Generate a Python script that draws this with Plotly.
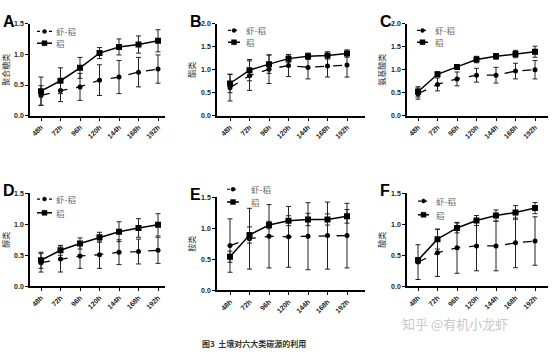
import plotly.graph_objects as go

times = ["48h", "72h", "96h", "120h", "144h", "168h", "192h"]
series_names = ["虾-稻", "稻"]
panel_letters = ["A", "B", "C", "D", "E", "F"]
y_titles = ["聚合糖类", "酯类", "氨基酸类", "醇类", "胺类", "酸类"]

# mean values and error bars [虾-稻, 稻]
A_xd = [0.33, 0.41, 0.47, 0.58, 0.63, 0.71, 0.76]
A_xd_err = [0.16, 0.18, 0.22, 0.25, 0.27, 0.24, 0.23]
A_d = [0.40, 0.57, 0.78, 1.02, 1.12, 1.16, 1.22]
A_d_err = [0.23, 0.21, 0.17, 0.09, 0.13, 0.14, 0.18]

B_xd = [0.61, 0.87, 1.01, 1.09, 1.05, 1.08, 1.10]
B_xd_err = [0.29, 0.32, 0.31, 0.24, 0.25, 0.24, 0.26]
B_d = [0.70, 0.99, 1.12, 1.24, 1.29, 1.31, 1.35]
B_d_err = [0.20, 0.23, 0.20, 0.08, 0.07, 0.08, 0.08]

C_xd = [0.48, 0.68, 0.80, 0.88, 0.88, 0.97, 1.00]
C_xd_err = [0.12, 0.14, 0.15, 0.15, 0.17, 0.17, 0.20]
C_d = [0.52, 0.90, 1.06, 1.22, 1.29, 1.34, 1.39]
C_d_err = [0.11, 0.05, 0.04, 0.07, 0.06, 0.08, 0.12]

D_xd = [0.38, 0.44, 0.49, 0.51, 0.55, 0.56, 0.58]
D_xd_err = [0.15, 0.21, 0.20, 0.22, 0.20, 0.20, 0.21]
D_d = [0.42, 0.58, 0.69, 0.79, 0.88, 0.94, 0.99]
D_d_err = [0.13, 0.08, 0.09, 0.08, 0.16, 0.15, 0.18]

E_xd = [0.72, 0.83, 0.87, 0.86, 0.87, 0.88, 0.88]
E_xd_err = [0.43, 0.49, 0.51, 0.49, 0.54, 0.54, 0.52]
E_d = [0.54, 0.89, 1.05, 1.12, 1.14, 1.14, 1.19]
E_d_err = [0.09, 0.13, 0.06, 0.08, 0.10, 0.09, 0.11]

F_xd = [0.39, 0.54, 0.62, 0.65, 0.65, 0.70, 0.73]
F_xd_err = [0.28, 0.38, 0.41, 0.40, 0.40, 0.40, 0.39]
F_d = [0.42, 0.76, 0.94, 1.06, 1.14, 1.19, 1.26]
F_d_err = [0.04, 0.16, 0.08, 0.08, 0.09, 0.11, 0.09]

data = [
    (A_xd, A_xd_err, A_d, A_d_err),
    (B_xd, B_xd_err, B_d, B_d_err),
    (C_xd, C_xd_err, C_d, C_d_err),
    (D_xd, D_xd_err, D_d, D_d_err),
    (E_xd, E_xd_err, E_d, E_d_err),
    (F_xd, F_xd_err, F_d, F_d_err),
]
y_max = [1.5, 2.0, 2.0, 1.5, 1.5, 1.5]

W, H = 555, 355
# pixel layout: (axis_left, axis_right, y_top, y_bottom, first_cat_px)
layout_px = [
    (30, 165, 20, 114, 41),
    (217, 365, 20, 114, 230),
    (407, 548, 20, 114, 418),
    (30, 165, 193, 288, 41),
    (217, 365, 197, 292, 230),
    (407, 548, 193, 288, 418),
]
# legend placement: (line_x0, line_x1, text_x, row1_y, row2_y)
legend_px = [
    (37, 52, 54, 28, 40),
    (228, 240, 244, 27, 39),
    (417, 428, 433, 27, 39),
    (37, 52, 54, 199, 213),
    (227, 239, 249, 189, 202),
    (418, 429, 434, 201, 215),
]
spacing = 19.5

def px(x):
    return x / W

def py(y):
    return 1 - y / H

fig = go.Figure()
xidx = list(range(len(times)))
tickfont = dict(family="Liberation Sans", size=7, color="#222", weight="bold")

for i, (xd, xde, d, de) in enumerate(data):
    n = "" if i == 0 else str(i + 1)
    fig.add_trace(go.Scatter(
        x=xidx, y=xd, name=series_names[0], xaxis="x" + n, yaxis="y" + n,
        mode="lines+markers", showlegend=False,
        line=dict(color="black", width=1.3, dash="dash"),
        marker=dict(symbol="circle", size=5, color="black"),
        error_y=dict(type="data", array=xde, color="#222", thickness=1, width=2.5),
    ))
    fig.add_trace(go.Scatter(
        x=xidx, y=d, name=series_names[1], xaxis="x" + n, yaxis="y" + n,
        mode="lines+markers", showlegend=False,
        line=dict(color="black", width=1.5),
        marker=dict(symbol="square", size=6, color="black"),
        error_y=dict(type="data", array=de, color="#222", thickness=1, width=2.5),
    ))
    l, r, t, b, c0 = layout_px[i]
    x0 = (l - c0) / spacing
    x1 = (r - c0) / spacing
    fig.layout["xaxis" + n] = dict(
        domain=[l / W, r / W], range=[x0, x1], anchor="y" + n,
        tickvals=xidx, ticktext=times, tickangle=-45, tickfont=tickfont,
        showline=True, linecolor="black", linewidth=1.5, ticks="outside",
        ticklen=3, tickcolor="black", tickwidth=1.2, showgrid=False, zeroline=False,
    )
    fig.layout["yaxis" + n] = dict(
        domain=[1 - b / H, 1 - t / H], range=[0, y_max[i]], anchor="x" + n,
        dtick=0.5, tickformat=".1f", tickfont=tickfont,
        showline=True, linecolor="black", linewidth=1.5, ticks="outside",
        ticklen=3, tickcolor="black", tickwidth=1.2, showgrid=False, zeroline=False,
        title=dict(text=y_titles[i], font=dict(family="Noto Sans CJK SC", size=8, color="#333"), standoff=4),
    )
    # manual legend
    lx0, lx1, tx, r1, r2 = legend_px[i]
    mid = (lx0 + lx1) / 2
    fig.add_shape(type="line", xref="paper", yref="paper", x0=px(lx0), x1=px(lx1),
                  y0=py(r1), y1=py(r1), line=dict(color="black", width=1.2, dash="dot"))
    fig.add_shape(type="circle", xref="paper", yref="paper", x0=px(mid - 2), x1=px(mid + 2),
                  y0=py(r1 + 2), y1=py(r1 - 2), fillcolor="black", line=dict(color="black", width=0.5))
    fig.add_shape(type="line", xref="paper", yref="paper", x0=px(lx0), x1=px(lx1),
                  y0=py(r2), y1=py(r2), line=dict(color="black", width=1.5))
    fig.add_shape(type="rect", xref="paper", yref="paper", x0=px(mid - 2.5), x1=px(mid + 2.5),
                  y0=py(r2 + 2.5), y1=py(r2 - 2.5), fillcolor="black", line=dict(color="black", width=0.5))
    for name, ry in zip(series_names, (r1, r2)):
        fig.add_annotation(
            text=name, xref="paper", yref="paper", x=px(tx), y=py(ry),
            xanchor="left", yanchor="middle", showarrow=False,
            font=dict(family="Noto Sans CJK SC", size=8.5, color="#666"),
        )
    fig.add_annotation(
        text=panel_letters[i], xref="paper", yref="paper",
        x=px(l - 29), y=py(t - 13), xanchor="left", yanchor="top",
        showarrow=False, font=dict(family="Liberation Sans", size=16, color="black", weight="bold"),
    )

fig.add_annotation(
    text="图3  土壤对六大类碳源的利用", xref="paper", yref="paper",
    x=px(200), y=py(346), xanchor="left", yanchor="middle", showarrow=False,
    font=dict(family="Noto Sans CJK SC", size=8, color="#333", weight="bold"),
)
fig.add_annotation(
    text="知乎 @有机小龙虾", xref="paper", yref="paper",
    x=px(400), y=py(326), xanchor="left", yanchor="middle", showarrow=False,
    font=dict(family="Noto Sans CJK SC", size=13, color="#c8c8c8"),
)

fig.update_layout(
    width=W, height=H, margin=dict(l=0, r=0, t=0, b=0),
    paper_bgcolor="white", plot_bgcolor="white", showlegend=False,
)
fig.write_html("out.html", config={"displayModeBar": False},
               post_script="document.body.style.margin='0';document.body.style.overflow='hidden';")
